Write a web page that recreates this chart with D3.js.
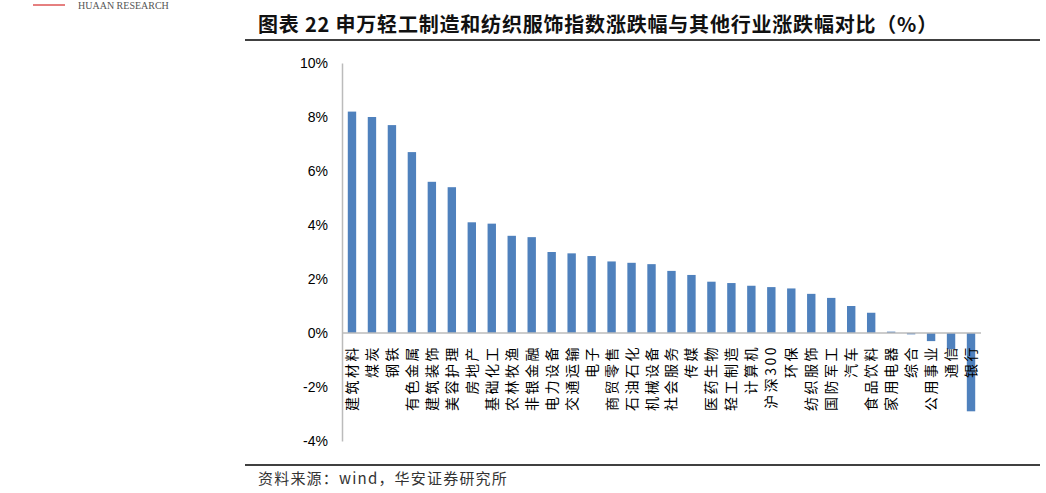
<!DOCTYPE html>
<html><head><meta charset="utf-8">
<script src="https://cdn.jsdelivr.net/npm/d3@7"></script>
<style>body{margin:0;background:#fff}</style>
</head><body><svg id="c" width="1046" height="493"></svg>
<script>
const categories = ['建筑材料','煤炭','钢铁','有色金属','建筑装饰','美容护理','房地产','基础化工','农林牧渔','非银金融','电力设备','交通运输','电子','商贸零售','石油石化','机械设备','社会服务','传媒','医药生物','轻工制造','计算机','沪深300','环保','纺织服饰','国防军工','汽车','食品饮料','家用电器','综合','公用事业','通信','银行'];
const values = [8.2,8.0,7.7,6.7,5.6,5.4,4.1,4.05,3.6,3.55,3.0,2.95,2.85,2.65,2.6,2.55,2.3,2.15,1.9,1.85,1.75,1.7,1.65,1.45,1.3,1.0,0.75,0.05,-0.05,-0.3,-0.6,-2.9];
const yTicks = [-4,-2,0,2,4,6,8,10];

const svg = d3.select('#c');
const font = '"Noto Sans CJK SC", sans-serif';

svg.append('line').attr('x1',33).attr('x2',65).attr('y1',5).attr('y2',5).attr('stroke','#c00').attr('stroke-width',1);
svg.append('text').attr('x',78).attr('y',9).attr('font-family','"Liberation Serif", serif').attr('font-size',10).attr('fill','#555').text('HUAAN RESEARCH');

svg.append('text').attr('x',258).attr('y',32).attr('font-family',font).attr('font-weight','bold').attr('font-size',20).attr('letter-spacing',0.8).attr('fill','#111')
  .text('图表 22 申万轻工制造和纺织服饰指数涨跌幅与其他行业涨跌幅对比（%）');
svg.append('line').attr('x1',245).attr('x2',1040).attr('y1',40).attr('y2',40).attr('stroke','#000').attr('stroke-width',1.5);
svg.append('line').attr('x1',245).attr('x2',1040).attr('y1',465).attr('y2',465).attr('stroke','#000').attr('stroke-width',1.5);
svg.append('text').attr('x',258).attr('y',484).attr('font-family',font).attr('font-size',15).attr('letter-spacing',1.2).attr('fill','#333').text('资料来源：wind，华安证券研究所');

const y = d3.scaleLinear().domain([-4,10]).range([441,63]);
const x = d3.scaleBand().domain(categories).range([342,981]).paddingInner(0.58).paddingOuter(0.29);

const g = svg.append('g');
g.append('g').attr('transform','translate(342,0)')
  .call(d3.axisLeft(y).tickValues(yTicks).tickSize(0).tickPadding(14).tickFormat(d=>d+'%'))
  .call(a=>a.select('.domain').attr('stroke','#bbb').attr('stroke-width',1.5))
  .call(a=>a.selectAll('text').attr('font-family','"Liberation Sans", Arial, sans-serif').attr('font-size',14).attr('fill','#000'));

g.selectAll('rect.bar').data(values).enter().append('rect')
  .attr('x',(d,i)=>x(categories[i])).attr('width',x.bandwidth())
  .attr('y',d=>y(Math.max(0,d))).attr('height',d=>Math.abs(y(d)-y(0)))
  .attr('fill','#4f81bd');

g.append('line').attr('x1',342).attr('x2',981).attr('y1',y(0)).attr('y2',y(0)).attr('stroke','#bbb').attr('stroke-width',1.5);

g.selectAll('text.lab').data(categories).enter().append('text')
  .attr('transform',d=>`translate(${x(d)+x.bandwidth()/2+5},345) rotate(-90)`)
  .attr('text-anchor','end').attr('font-family',font).attr('font-size',14).attr('letter-spacing',2.5).attr('fill','#000')
  .text(d=>d);
</script></body></html>
